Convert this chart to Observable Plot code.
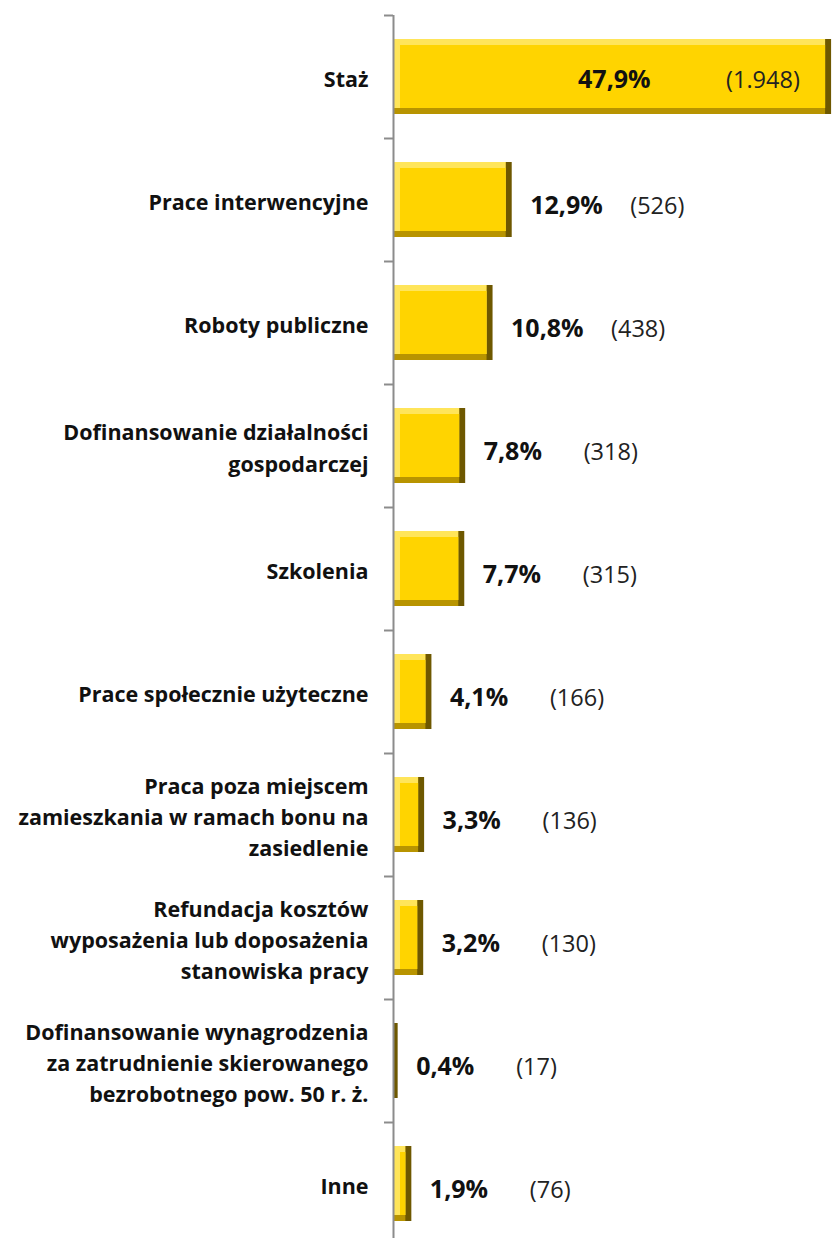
<!DOCTYPE html>
<html>
<head>
<meta charset="utf-8">
<script src="https://cdn.jsdelivr.net/npm/d3@7"></script>
<script src="https://cdn.jsdelivr.net/npm/@observablehq/plot@0.6"></script>
<style>
  html, body { margin: 0; padding: 0; background: #fff; overflow: hidden; }
  #chart svg { display: block; }
</style>
</head>
<body>
<div id="chart"></div>
<script>
const categories = [
  "Staż",
  "Prace interwencyjne",
  "Roboty publiczne",
  "Dofinansowanie działalności\ngospodarczej",
  "Szkolenia",
  "Prace społecznie użyteczne",
  "Praca poza miejscem\nzamieszkania w ramach bonu na\nzasiedlenie",
  "Refundacja kosztów\nwyposażenia lub doposażenia\nstanowiska pracy",
  "Dofinansowanie wynagrodzenia\nza zatrudnienie skierowanego\nbezrobotnego pow. 50 r. ż.",
  "Inne"
];
const percents = [47.9, 12.9, 10.8, 7.8, 7.7, 4.1, 3.3, 3.2, 0.4, 1.9];
const counts = [1948, 526, 438, 318, 315, 166, 136, 130, 17, 76];

const data = categories.map((c, i) => ({cat: c, pct: percents[i], n: counts[i]}));
const fmtPct = v => v.toFixed(1).replace(".", ",") + "%";
const fmtCount = v => "(" + (v >= 1000 ? Math.floor(v / 1000) + "." + String(v % 1000).padStart(3, "0") : String(v)) + ")";

const W = 832, H = 1245, MT = 15, MB = 0;
const step = (H - MT - MB) / categories.length;
const inside = data.filter(d => d.pct > 40);
const outside = data.filter(d => d.pct <= 40);
const bev = 6;

const plot = Plot.plot({
  width: W,
  height: H,
  marginLeft: 394,
  marginRight: 0,
  marginTop: MT,
  marginBottom: MB,
  style: {fontFamily: "'Open Sans', Lato, sans-serif", background: "#fff"},
  x: {domain: [0, 48], axis: null},
  y: {domain: categories, axis: null, paddingInner: 0.39, paddingOuter: 0.195},
  marks: [
    // bevelled bars
    Plot.barX(data, {y: "cat", x: "pct", fill: "#6e5800"}),
    Plot.barX(data, {y: "cat", x: "pct", fill: "#b89400", insetRight: bev}),
    Plot.barX(data, {y: "cat", x: "pct", fill: "#ffe55a", insetRight: bev, insetBottom: bev}),
    Plot.barX(data, {y: "cat", x: "pct", fill: "#ffd400", inset: bev}),
    // axis line and boundary ticks
    Plot.ruleX([0], {stroke: "#8c8c8c", strokeWidth: 2, dx: -1}),
    Plot.ruleY(categories, {y: d => d, x1: 0, x2: 0, insetLeft: -9, dx: -1, dy: -step / 2, stroke: "#8c8c8c", strokeWidth: 2}),
    // category labels
    Plot.text(data, {
      ariaLabel: "category",
      y: "cat", x: 0, text: "cat", textAnchor: "end", dx: -26,
      lineHeight: 1.45, fontSize: 21.5, fontWeight: "bold", fill: "#111"
    }),
    // value labels outside bars
    Plot.text(outside, {y: "cat", x: "pct", text: d => fmtPct(d.pct), textAnchor: "start", dx: 18, dy: 6, fontSize: 25, fontWeight: "bold", fill: "#111"}),
    Plot.text(outside, {y: "cat", x: "pct", text: d => fmtCount(d.n), textAnchor: "start", dx: 118, dy: 6, fontSize: 23.5, fill: "#222"}),
    // value labels inside the long bar
    Plot.text(inside, {y: "cat", x: d => d.pct / 2, text: d => fmtPct(d.pct), textAnchor: "start", dx: -35, dy: 3, fontSize: 25, fontWeight: "bold", fill: "#111"}),
    Plot.text(inside, {y: "cat", x: d => d.pct / 2, text: d => fmtCount(d.n), textAnchor: "start", dx: 113, dy: 3, fontSize: 23.5, fill: "#222"})
  ]
});
document.getElementById("chart").appendChild(plot);

// centre the lines of multi-line category labels within their right-aligned block
plot.querySelectorAll('g[aria-label="category"] text').forEach(t => {
  const spans = t.querySelectorAll("tspan");
  if (spans.length > 1) {
    let maxW = 0;
    spans.forEach(s => { maxW = Math.max(maxW, s.getComputedTextLength()); });
    t.setAttribute("text-anchor", "middle");
    spans.forEach(s => s.setAttribute("x", -maxW / 2));
  }
});
</script>
</body>
</html>
